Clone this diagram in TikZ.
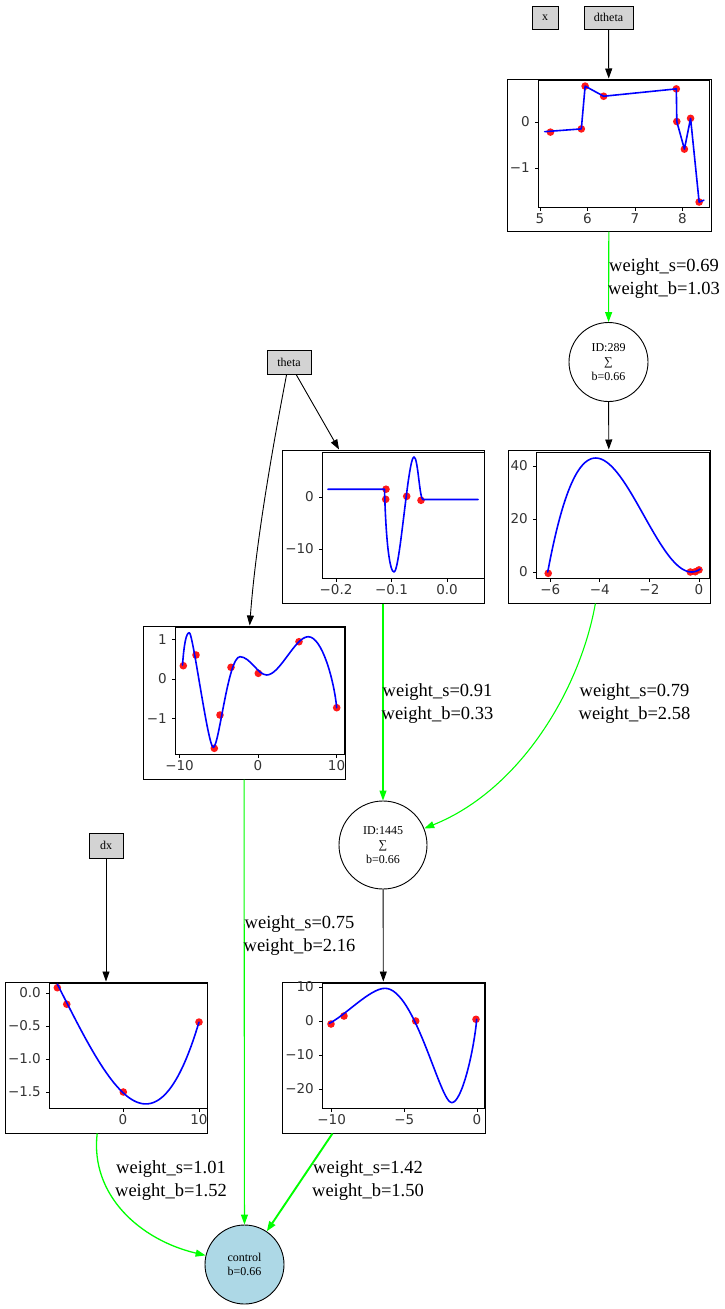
\documentclass[tikz,border=0pt]{standalone}
\usepackage{fontspec}
\setmainfont{Liberation Serif}
\newfontfamily\tickfamily{DejaVu Sans}
\usetikzlibrary{arrows.meta}
\definecolor{gvgreen}{HTML}{00FF00}
\definecolor{gvlightblue}{HTML}{ADD8E6}
\definecolor{gvlightgray}{HTML}{D3D3D3}
\definecolor{tickgray}{HTML}{333333}
\newcommand\gvnodefont{\fontsize{12}{14.5}\selectfont}
\newcommand\gvedgefont{\fontsize{18.5}{23}\selectfont}
\newcommand\gvtickfont{\tickfamily\fontsize{13.5}{13.5}\selectfont}
\begin{document}
\begin{tikzpicture}[x=1pt,y=-1pt,
  inp/.style={draw, fill=gvlightgray, rectangle, inner sep=0pt, font=\gvnodefont, line width=0.9pt},
  plotbox/.style={draw, rectangle, inner sep=0pt, line width=1pt},
  neuron/.style={draw, circle, inner sep=0pt, align=center, font=\gvnodefont, line width=0.9pt},
  blackedge/.style={draw=black, line width=0.9pt, -{Triangle[length=10pt,width=7pt]}},
  greenedge/.style={draw=gvgreen, line width=1.1pt, -{Triangle[length=10pt,width=7pt]}, fill=none},
  wlabel/.style={font=\gvedgefont, align=center, inner sep=0pt},
  curve/.style={draw=blue, line width=1.6pt, line join=round, line cap=round},
  dot/.style={fill=red, fill opacity=0.9},
  spine/.style={draw=black, line width=0.8pt},
  ticklab/.style={font=\gvtickfont, text=tickgray, inner sep=0pt}
]
\useasboundingbox (0,0) rectangle (724,1309);

% ---------- input boxes ----------
\node[inp, minimum width=26pt, minimum height=23pt] (x) at (545,17.5) {x};
\node[inp, minimum width=49pt, minimum height=23pt] (dtheta) at (608.5,17.5) {dtheta};
\node[inp, minimum width=44pt, minimum height=24pt] (theta) at (289,362) {theta};
\node[inp, minimum width=34pt, minimum height=25pt] (dx) at (106,845.5) {dx};

% ---------- plot frames ----------
\node[plotbox, minimum width=204pt, minimum height=152pt] (p1) at (609,155) {};
\node[plotbox, minimum width=202pt, minimum height=153pt] (p2) at (609,526.5) {};
\node[plotbox, minimum width=202pt, minimum height=153pt] (p3) at (383,526.5) {};
\node[plotbox, minimum width=202pt, minimum height=153pt] (p4) at (244,702.5) {};
\node[plotbox, minimum width=203pt, minimum height=151pt] (p5) at (383.5,1057.5) {};
\node[plotbox, minimum width=202pt, minimum height=151pt] (p6) at (106,1057.5) {};

% ---------- neurons ----------
\node[neuron, minimum size=79pt] (n289) at (608.5,362) {ID:289\\∑\\b=0.66};
\node[neuron, minimum size=88pt] (n1445) at (383,845) {ID:1445\\∑\\b=0.66};
\node[neuron, minimum size=79pt, fill=gvlightblue] (control) at (244.5,1264.5) {control\\b=0.66};

% ---------- plot 1 (dtheta) ----------
\draw[spine] (538,80) rectangle (709,207);
\foreach \t/\l in {540/5, 587.5/6, 635/7, 682.5/8} {
  \draw[spine] (\t,207) -- ++(0,3.5);
  \node[ticklab, anchor=north] at (\t,213) {\l};
}
\foreach \t/\l in {122/0, 168/−1} {
  \draw[spine] (538,\t) -- ++(-3.5,0);
  \node[ticklab, anchor=east] at (530,\t) {\l};
}
\begin{scope}[shift={(302.5,122)}, x=47.5pt, y=46pt]
  \foreach \a/\b in {5.22/-0.22, 5.87/-0.15, 5.95/0.78, 6.34/0.56, 7.87/0.72, 7.88/0.01, 8.04/-0.59, 8.17/0.08, 8.35/-1.74}
    \fill[dot] (\a,\b) circle[radius=3.8pt];
  \draw[curve] (5.1,-0.21) -- (5.87,-0.15) -- (5.95,0.78) -- (6.34,0.56) -- (7.87,0.72) -- (7.88,0.01) -- (8.04,-0.59) -- (8.17,0.08) -- (8.35,-1.74) -- (8.45,-1.7);
\end{scope}

% ---------- plot 2 ----------
\draw[spine] (536,452) rectangle (709,578);
\foreach \t/\l in {550.2/−6, 599.8/−4, 649.4/−2, 699/0} {
  \draw[spine] (\t,578) -- ++(0,3.5);
  \node[ticklab, anchor=north] at (\t,584) {\l};
}
\foreach \t/\l in {572/0, 519/20, 466/40} {
  \draw[spine] (536,\t) -- ++(-3.5,0);
  \node[ticklab, anchor=east] at (528,\t) {\l};
}
\begin{scope}[shift={(699,572)}, x=24.8pt, y=2.65pt]
  \foreach \a/\b in {-6.08/-0.5, -0.35/0, -0.15/0.1, 0/0.8}
    \fill[dot] (\a,\b) circle[radius=3.8pt];
  \draw[curve] plot[domain=-6.1:0.05, samples=90] (\x, {1.488*(\x+6.1)*(\x+0.3)*(\x+0.3)});
\end{scope}

% ---------- plot 3 ----------
\draw[spine] (322,452) rectangle (484,578);
\foreach \t/\l in {336/−0.2, 391.5/−0.1, 447/0.0} {
  \draw[spine] (\t,578) -- ++(0,3.5);
  \node[ticklab, anchor=north] at (\t,584) {\l};
}
\foreach \t/\l in {497/0, 549/−10} {
  \draw[spine] (322,\t) -- ++(-3.5,0);
  \node[ticklab, anchor=east] at (314,\t) {\l};
}
\foreach \a/\b in {386/489.2, 385.7/499.3, 406.7/496.3, 421/500.3}
  \fill[dot] (\a,\b) circle[radius=3.8pt];
\draw[curve] (328,489.2) -- (384.5,489.2) .. controls (386,545) and (390,572) .. (394,572)
  .. controls (400,572) and (408,457) .. (414,457)
  .. controls (418,457) and (419.5,499.5) .. (423,499.5) -- (478,499.5);

% ---------- plot 4 ----------
\draw[spine] (175,627) rectangle (344,754);
\foreach \t/\l in {179.5/−10, 258/0, 336.5/10} {
  \draw[spine] (\t,754) -- ++(0,3.5);
  \node[ticklab, anchor=north] at (\t,760) {\l};
}
\foreach \t/\l in {639.5/1, 679/0, 718.5/−1} {
  \draw[spine] (175,\t) -- ++(-3.5,0);
  \node[ticklab, anchor=east] at (167,\t) {\l};
}
\foreach \a/\b in {183.3/665.7, 196/655, 214.3/748.3, 220/715, 231/667.3, 258.3/673.3, 299/641.7, 336.7/707.7}
  \fill[dot] (\a,\b) circle[radius=3.8pt];
\draw[curve] (182.5,665) .. controls (184,645) and (186,632.7) .. (189.3,632.7)
  .. controls (193,632.7) and (208,747.3) .. (213.3,747.3)
  .. controls (219,747.3) and (228,656.7) .. (240,656.7)
  .. controls (250,656.7) and (258,675) .. (266.7,675)
  .. controls (280,675) and (295,636.7) .. (308.3,636.7)
  .. controls (322,636.7) and (334,680) .. (336.7,707.7);

% ---------- plot 5 ----------
\draw[spine] (322,983) rectangle (484,1108);
\foreach \t/\l in {331.6/−10, 404.3/−5, 477/0} {
  \draw[spine] (\t,1108) -- ++(0,3.5);
  \node[ticklab, anchor=north] at (\t,1114) {\l};
}
\foreach \t/\l in {987/10, 1021/0, 1055/−10, 1089/−20} {
  \draw[spine] (322,\t) -- ++(-3.5,0);
  \node[ticklab, anchor=east] at (314,\t) {\l};
}
\foreach \a/\b in {331/1024, 344/1016, 415.7/1021, 476/1019.3}
  \fill[dot] (\a,\b) circle[radius=3.8pt];
\draw[curve] (329.3,1023.3) .. controls (345,1015.8) and (370,988.3) .. (385,988.3)
  .. controls (415,988.3) and (440,1102.7) .. (451.7,1102.7)
  .. controls (462,1102.7) and (474,1050) .. (476.7,1019.3);

% ---------- plot 6 ----------
\draw[spine] (49,983) rectangle (207,1108);
\foreach \t/\l in {123/0, 199/10} {
  \draw[spine] (\t,1108) -- ++(0,3.5);
  \node[ticklab, anchor=north] at (\t,1114) {\l};
}
\foreach \t/\l in {993/0.0, 1026/−0.5, 1059/−1.0, 1092/−1.5} {
  \draw[spine] (49,\t) -- ++(-3.5,0);
  \node[ticklab, anchor=east] at (41,\t) {\l};
}
\begin{scope}[shift={(123,993)}, x=7.6pt, y=66pt]
  \foreach \a/\b in {-8.64/0.08, -7.4/-0.17, 0.04/-1.5, 10/-0.44}
    \fill[dot] (\a,\b) circle[radius=3.8pt];
  \draw[curve] plot[domain=-8.64:10, samples=90] (\x, {-1.51-0.1078*\x+0.01508*\x*\x+0.00064*\x*\x*\x});
\end{scope}

% ---------- edges ----------
\draw[blackedge] (dtheta) -- (p1);
\draw[greenedge] (p1) -- (n289);
\draw[blackedge] (n289) -- (p2);
\draw[blackedge] (theta) -- (p3);
\draw[blackedge] (theta) .. controls (274,440) and (256,540) .. (p4);
\draw[greenedge] (p3) -- (n1445);
\draw[greenedge] (p2) .. controls (580,690) and (520,790) .. (n1445);
\draw[blackedge] (n1445) -- (p5);
\draw[blackedge] (dx) -- (p6);
\draw[greenedge] (p4) -- (control);
\draw[greenedge, line width=1.3pt] (p6) .. controls (90,1195) and (140,1240) .. (control);
\draw[greenedge, line width=1.9pt] (p5) -- (control);

% ---------- edge labels ----------
\node[wlabel] (l1) at (664,278.5) {weight\_s=0.69\\weight\_b=1.03};
\node[wlabel] (l2) at (634.5,703.5) {weight\_s=0.79\\weight\_b=2.58};
\node[wlabel] (l3) at (437.5,703.5) {weight\_s=0.91\\weight\_b=0.33};
\node[wlabel] (l4) at (299.5,936) {weight\_s=0.75\\weight\_b=2.16};
\node[wlabel] (l5) at (171,1181) {weight\_s=1.01\\weight\_b=1.52};
\node[wlabel] (l6) at (368,1181) {weight\_s=1.42\\weight\_b=1.50};
\end{tikzpicture}
\end{document}
